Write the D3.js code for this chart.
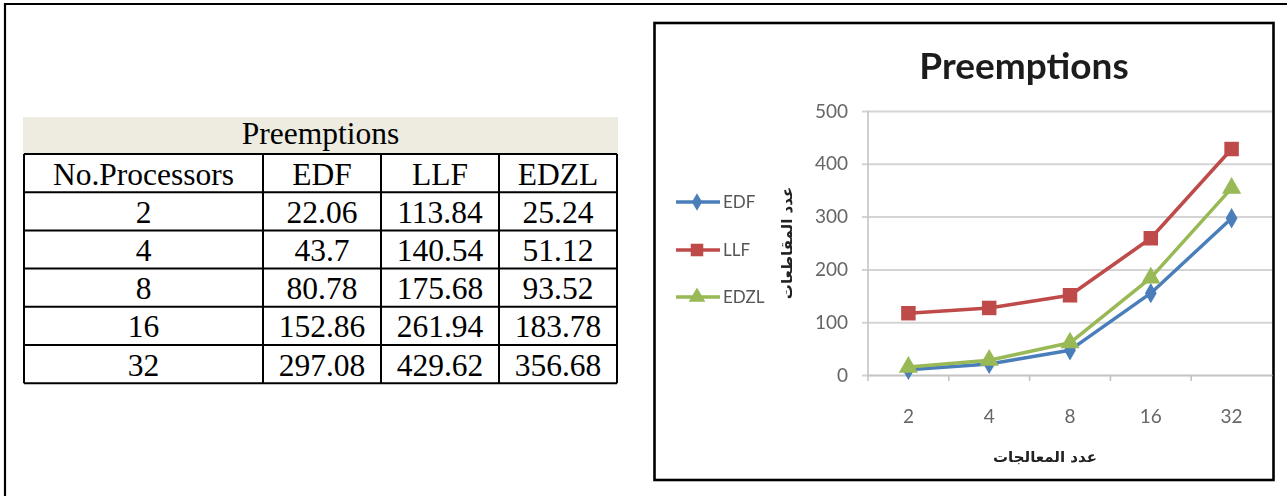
<!DOCTYPE html>
<html>
<head>
<meta charset="utf-8">
<script src="https://cdn.jsdelivr.net/npm/d3@7"></script>
<style>
  body { margin: 0; background: #fff; }
  svg { display: block; }
</style>
</head>
<body>
<svg id="fig" width="1287" height="496"></svg>
<script>
// ---- data ----
const processors = ["2", "4", "8", "16", "32"];
const algorithms = ["EDF", "LLF", "EDZL"];

// values listed in the table
const tableEDF  = [22.06, 43.7, 80.78, 152.86, 297.08];
const tableLLF  = [113.84, 140.54, 175.68, 261.94, 429.62];
const tableEDZL = [25.24, 51.12, 93.52, 183.78, 356.68];

// values drawn in the line chart
const chartEDF  = [10, 21, 47, 155, 297];
const chartLLF  = [117, 127, 151, 259, 428];
const chartEDZL = [15, 28, 61, 184, 354];

const yTicks = [0, 100, 200, 300, 400, 500];

const tableTitle = "Preemptions";
const tableHeader = ["No.Processors", "EDF", "LLF", "EDZL"];
const chartTitle = "Preemptions";
const xTitle = "عدد المعالجات";
const yTitle = "عدد المقاطعات";

// ---- page ----
const svg = d3.select("#fig");

// outer frame (runs off the right and bottom edges)
svg.append("path")
  .attr("d", "M5,500 L5,4 L1300,4")
  .attr("fill", "none").attr("stroke", "#000").attr("stroke-width", 2.2);

// ---- table ----
const colEdges = [24, 263, 381, 499, 617];
const rowTop = 154, rowH = 38.2;
const tableRows = processors.map((p, i) =>
  [p, String(tableEDF[i]), String(tableLLF[i]), String(tableEDZL[i])]);
const allRows = [tableHeader, ...tableRows];

const tbl = svg.append("g").attr("font-family", "'Liberation Serif', 'Times New Roman', serif")
  .attr("font-size", 31.5).attr("fill", "#000");

tbl.append("rect")
  .attr("x", colEdges[0] - 1).attr("y", 117)
  .attr("width", colEdges[4] - colEdges[0] + 2).attr("height", rowTop - 117)
  .attr("fill", "#eeece1");
tbl.append("text")
  .attr("x", (colEdges[0] + colEdges[4]) / 2).attr("y", 144)
  .attr("text-anchor", "middle").text(tableTitle);

allRows.forEach((row, r) => {
  row.forEach((cell, c) => {
    tbl.append("text")
      .attr("x", (colEdges[c] + colEdges[c + 1]) / 2)
      .attr("y", rowTop + r * rowH + 30.5)
      .attr("text-anchor", "middle")
      .text(cell);
  });
});

const tableBottom = rowTop + allRows.length * rowH;
const grid = tbl.append("g").attr("stroke", "#000").attr("stroke-width", 2);
d3.range(allRows.length + 1).forEach(r => {
  grid.append("line")
    .attr("x1", colEdges[0]).attr("x2", colEdges[4])
    .attr("y1", rowTop + r * rowH).attr("y2", rowTop + r * rowH);
});
colEdges.forEach(cx => {
  grid.append("line")
    .attr("x1", cx).attr("x2", cx)
    .attr("y1", rowTop).attr("y2", tableBottom);
});

// ---- chart ----
svg.append("rect")
  .attr("x", 654.5).attr("y", 23)
  .attr("width", 619).attr("height", 457)
  .attr("fill", "#fff").attr("stroke", "#000").attr("stroke-width", 2.6);

const defs = svg.append("defs");
defs.append("filter").attr("id", "soft")
  .attr("x", "-5%").attr("y", "-5%").attr("width", "110%").attr("height", "110%")
  .append("feGaussianBlur").attr("stdDeviation", 0.7);

const chart = svg.append("g").attr("filter", "url(#soft)");

const plotLeft = 868, plotRight = 1272, plotTop = 111, plotBottom = 375;
const x = d3.scaleBand().domain(processors).range([plotLeft, plotRight]);
const y = d3.scaleLinear().domain([0, 500]).range([plotBottom, plotTop]);
const color = d3.scaleOrdinal().domain(algorithms).range(["#4a7ebb", "#be4b48", "#98b954"]);

// y axis with gridlines
const yAxis = chart.append("g")
  .attr("transform", `translate(${plotLeft},0)`)
  .call(d3.axisLeft(y).tickValues(yTicks).tickSize(-(plotRight - plotLeft)).tickSizeOuter(0).tickPadding(20));
yAxis.select(".domain").remove();
yAxis.selectAll(".tick line").attr("stroke", "#d4d4d4").attr("stroke-width", 2)
  .attr("x1", -6);
yAxis.selectAll(".tick text")
  .attr("font-family", "Lato, 'Open Sans', sans-serif").attr("font-size", 19)
  .attr("fill", "#666");

chart.append("line")
  .attr("x1", plotLeft).attr("x2", plotLeft)
  .attr("y1", plotTop).attr("y2", plotBottom)
  .attr("stroke", "#c4c4c4").attr("stroke-width", 1.6);

// x axis
const xAxis = chart.append("g")
  .attr("transform", `translate(0,${plotBottom})`)
  .call(d3.axisBottom(x).tickSize(0).tickPadding(35));
xAxis.select(".domain").attr("stroke", "#c4c4c4").attr("stroke-width", 1.6);
xAxis.selectAll(".tick text")
  .attr("font-family", "Lato, 'Open Sans', sans-serif").attr("font-size", 19)
  .attr("fill", "#666");
// category boundary ticks
processors.forEach(p => {
  const bx = x(p);
  chart.append("line")
    .attr("x1", bx).attr("x2", bx)
    .attr("y1", plotBottom).attr("y2", plotBottom + 6)
    .attr("stroke", "#c4c4c4").attr("stroke-width", 1.6);
});

// series
const series = [
  { name: "EDF",  values: chartEDF,  symbol: d3.symbolDiamond,  size: 120 },
  { name: "LLF",  values: chartLLF,  symbol: d3.symbolSquare,   size: 210 },
  { name: "EDZL", values: chartEDZL, symbol: d3.symbolTriangle, size: 160 }
];
const cx = p => x(p) + x.bandwidth() / 2;
const line = d3.line().x((d, i) => cx(processors[i])).y(d => y(d));

series.forEach(s => {
  chart.append("path")
    .attr("d", line(s.values))
    .attr("fill", "none").attr("stroke", color(s.name))
    .attr("stroke-width", 3.5).attr("stroke-linejoin", "round");
});
series.forEach(s => {
  chart.selectAll(null).data(s.values).enter().append("path")
    .attr("d", d3.symbol(s.symbol, s.size)())
    .attr("transform", (d, i) => `translate(${cx(processors[i])},${y(d)})`)
    .attr("fill", color(s.name));
});

// legend
const legendY = [202, 250, 297];
series.forEach((s, i) => {
  const g = chart.append("g").attr("transform", `translate(0,${legendY[i]})`);
  g.append("line").attr("x1", 676).attr("x2", 720)
    .attr("stroke", color(s.name)).attr("stroke-width", 3.5);
  g.append("path").attr("d", d3.symbol(s.symbol, s.size * 0.75)())
    .attr("transform", "translate(697,0)").attr("fill", color(s.name));
  g.append("text").attr("x", 723).attr("y", 6)
    .attr("font-family", "Lato, 'Open Sans', sans-serif").attr("font-size", 17)
    .attr("fill", "#555").text(s.name);
});

// titles
chart.append("text")
  .attr("x", 1024).attr("y", 79)
  .attr("text-anchor", "middle")
  .attr("font-family", "Lato, 'Open Sans', sans-serif").attr("font-weight", 700)
  .attr("font-size", 37).attr("fill", "#1e1e1e")
  .text(chartTitle);

chart.append("text")
  .attr("transform", "translate(792,243) rotate(-90)")
  .attr("text-anchor", "middle")
  .attr("font-family", "'DejaVu Sans', sans-serif").attr("font-weight", 700)
  .attr("font-size", 15).attr("fill", "#222")
  .attr("direction", "rtl")
  .text(yTitle);

chart.append("text")
  .attr("x", 1045).attr("y", 462)
  .attr("text-anchor", "middle")
  .attr("font-family", "'DejaVu Sans', sans-serif").attr("font-weight", 700)
  .attr("font-size", 15).attr("fill", "#222")
  .attr("direction", "rtl")
  .text(xTitle);
</script>
</body>
</html>
